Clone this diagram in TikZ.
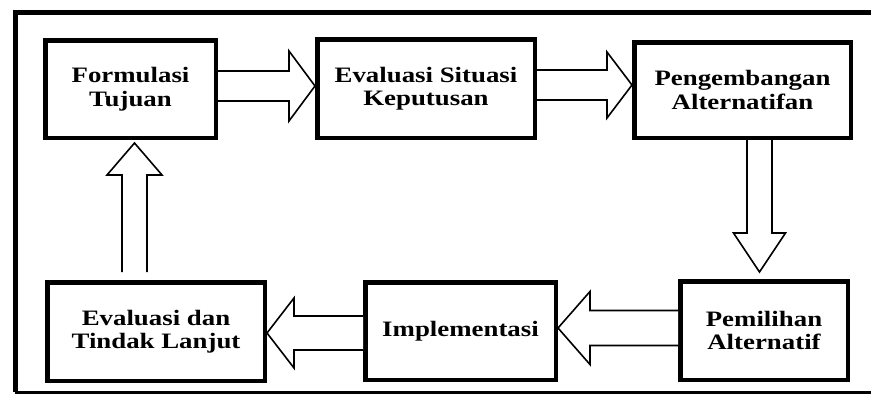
\documentclass[tikz,border=0pt]{standalone}
\usepackage{fontspec}
\setmainfont{Liberation Serif}[FakeStretch=1.22]
\usetikzlibrary{calc}

% block arrows: #1 start, #2 tip, #3 shaft half-width, #4 head half-width, #5 head length
\newcommand\blockright[5]{\draw[blockarrow] let \p1=(#1), \p2=(#2) in
  (\x1,\y1+#3) -- (\x2-#5,\y1+#3) -- (\x2-#5,\y1+#4) -- (\x2,\y1)
  -- (\x2-#5,\y1-#4) -- (\x2-#5,\y1-#3) -- (\x1,\y1-#3);}
\newcommand\blockleft[5]{\draw[blockarrow] let \p1=(#1), \p2=(#2) in
  (\x1,\y1+#3) -- (\x2+#5,\y1+#3) -- (\x2+#5,\y1+#4) -- (\x2,\y1)
  -- (\x2+#5,\y1-#4) -- (\x2+#5,\y1-#3) -- (\x1,\y1-#3);}
\newcommand\blockdown[5]{\draw[blockarrow] let \p1=(#1), \p2=(#2) in
  (\x1+#3,\y1) -- (\x1+#3,\y2+#5) -- (\x1+#4,\y2+#5) -- (\x1,\y2)
  -- (\x1-#4,\y2+#5) -- (\x1-#3,\y2+#5) -- (\x1-#3,\y1);}
\newcommand\blockup[5]{\draw[blockarrow] let \p1=(#1), \p2=(#2) in
  (\x1+#3,\y1) -- (\x1+#3,\y2-#5) -- (\x1+#4,\y2-#5) -- (\x1,\y2)
  -- (\x1-#4,\y2-#5) -- (\x1-#3,\y2-#5) -- (\x1-#3,\y1);}

\begin{document}
\begin{tikzpicture}[x=1pt,y=-1pt,
  stepbox/.style={draw=black, line width=4.5pt, rectangle, inner sep=0pt,
    align=center, font=\bfseries\fontsize{22}{23.5}\selectfont},
  blockarrow/.style={draw=black, line width=1.6pt, line join=miter, fill=white}]
\useasboundingbox (0,0) rectangle (871,400);

% outer frame (its right side lies beyond the page)
\draw[line width=5pt] (880,12.5) -- (15,12.5) -- (15,392);
\draw[line width=3pt] (15,392) -- (880,392);

% steps
\node[stepbox, minimum width=170.5pt, minimum height=97.5pt] (f)  at (130.5,89)  {Formulasi\\Tujuan};
\node[stepbox, minimum width=217.5pt, minimum height=98.5pt] (e)  at (426,88.5)  {Evaluasi Situasi\\Keputusan};
\node[stepbox, minimum width=216.5pt, minimum height=95.5pt] (pg) at (742.5,90)  {Pengembangan\\Alternatifan};
\node[stepbox, minimum width=167.5pt, minimum height=98.5pt] (pm) at (764,330.5) {Pemilihan\\Alternatif};
\node[stepbox, minimum width=190.5pt, minimum height=97.5pt] (im) at (460.5,331) {Implementasi};
\node[stepbox, minimum width=217.5pt, minimum height=98.5pt] (ed) at (156,331.5) {Evaluasi dan\\Tindak Lanjut};

% flow between steps
\blockright{$(f.east)+(0,-3)$}{e.west}{15pt}{35pt}{26pt}
\blockright{$(e.east)+(0,-3.5)$}{pg.west}{15pt}{33pt}{25pt}
\blockdown{$(pg.south)+(17,0)$}{$(pm.north)+(0,-7)$}{12.5pt}{26pt}{39pt}
\blockleft{$(pm.west)+(0,-2.5)$}{im.east}{17.5pt}{36.5pt}{32pt}
\blockleft{$(im.west)+(0,2)$}{ed.east}{17pt}{35pt}{27pt}
\blockup{$(ed.north)+(-21.5,-8)$}{$(f.south)+(0,3)$}{12.5pt}{27.5pt}{32pt}
\end{tikzpicture}
\end{document}
